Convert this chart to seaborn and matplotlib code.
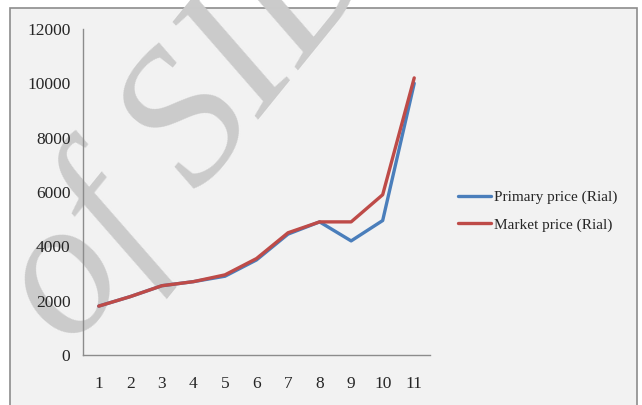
import matplotlib
matplotlib.use("Agg")
import matplotlib.pyplot as plt
import matplotlib.patches as mpatches
import pandas as pd
import seaborn as sns

# Data
periods = [1, 2, 3, 4, 5, 6, 7, 8, 9, 10, 11]
primary_price = [1800, 2150, 2550, 2700, 2900, 3500, 4450, 4900, 4200, 4950, 10000]
market_price = [1800, 2150, 2550, 2700, 2950, 3550, 4500, 4900, 4900, 5900, 10200]
series_names = ["Primary price (Rial)", "Market price (Rial)"]
series_colors = ["#4A7EBB", "#BE4B48"]
y_ticks = [0, 2000, 4000, 6000, 8000, 10000, 12000]

df = pd.DataFrame({
    "period": periods * 2,
    "price": primary_price + market_price,
    "series": [series_names[0]] * len(periods) + [series_names[1]] * len(periods),
})
df["pos"] = df["period"] - 1

sns.set_style("white")
plt.rcParams["font.family"] = ["Liberation Serif", "DejaVu Serif"]

fig = plt.figure(figsize=(6.42, 4.05), dpi=100, facecolor="white")

# gray chart area with border
fig.patches.append(mpatches.Rectangle((10 / 642, -0.05), 627 / 642, 1 - 8 / 405 + 0.05,
                                      transform=fig.transFigure, facecolor="#F2F2F2",
                                      edgecolor="#8C8C8C", linewidth=1.2, zorder=-5))

ax = fig.add_axes([83 / 642, 1 - 355 / 405, (430 - 83) / 642, (355 - 29) / 405])
ax.set_facecolor("none")

# watermark (runs off the top edge, as in the source image); below axis and lines
ax.text(72 / 642, 1 - 350 / 405, "of SID", transform=fig.transFigure, rotation=51,
        rotation_mode="anchor", fontsize=140, fontstyle="italic", color="#CBCBCB",
        ha="left", va="baseline", zorder=0.2, clip_on=False)

sns.lineplot(data=df, x="pos", y="price", hue="series", palette=series_colors,
             linewidth=2.4, ax=ax, zorder=3, legend=True)

ax.set_xlim(-0.5, len(periods) - 0.5)
ax.set_ylim(0, 12000)
ax.set_yticks(y_ticks)
ax.set_yticklabels([str(t) for t in y_ticks], fontsize=12.5)
ax.set_xticks([i - 0.5 for i in range(len(periods) + 1)])
ax.set_xticklabels([])
ax.set_xticks(range(len(periods)), minor=True)
ax.set_xticklabels([str(p) for p in periods], minor=True, fontsize=12.5)
ax.tick_params(axis="x", which="major", direction="out", length=5, color="#8C8C8C", width=1)
ax.tick_params(axis="x", which="minor", length=0, pad=15)
ax.tick_params(axis="y", direction="out", length=5, color="#8C8C8C", width=1, pad=4)
ax.set_xlabel("")
ax.set_ylabel("")

for side in ["top", "right"]:
    ax.spines[side].set_visible(False)
for side in ["left", "bottom"]:
    ax.spines[side].set_color("#8C8C8C")
    ax.spines[side].set_linewidth(1)

handles, labels = ax.get_legend_handles_labels()
ax.legend(handles, labels, loc="center left", bbox_to_anchor=(444 / 642, 1 - 211 / 405),
          bbox_transform=fig.transFigure, frameon=False, fontsize=11,
          handlelength=2.2, handletextpad=0.15, labelspacing=0.9)

fig.savefig("out.png", dpi=100, facecolor="white")
